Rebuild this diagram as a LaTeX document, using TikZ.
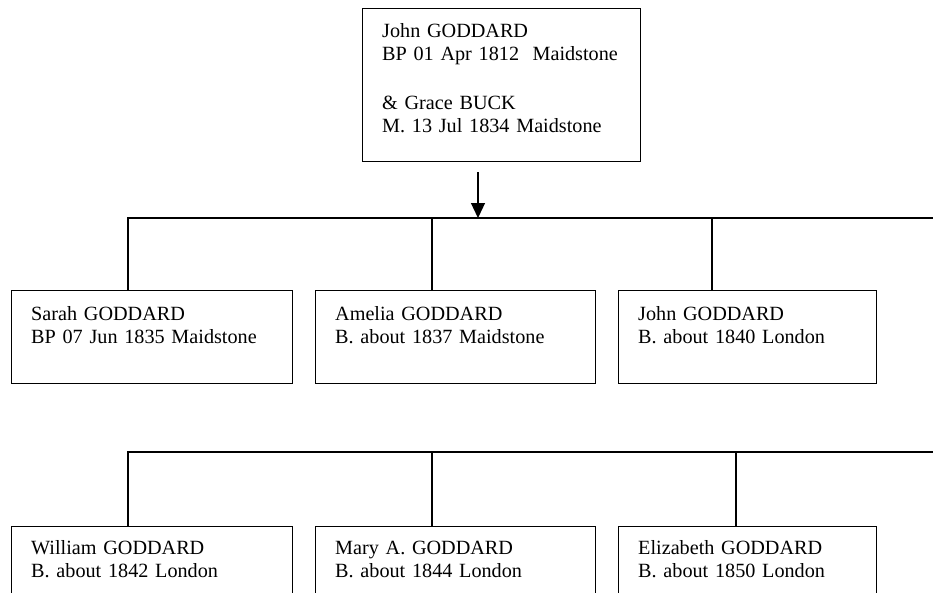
\documentclass[tikz,border=0pt]{standalone}
\usepackage{fontspec}
\setmainfont{Liberation Serif}
\usetikzlibrary{arrows.meta,calc}
\begin{document}
\begin{tikzpicture}[x=1pt,y=-1pt,
  box/.style={draw, line width=1.2pt, rectangle, inner sep=0pt, anchor=north west},
  txt/.style={font=\fontsize{20.2}{23.5}\selectfont, align=left, text width=255pt, inner sep=0pt, anchor=base west},
  conn/.style={line width=1.2pt},
  arrowconn/.style={line width=1.2pt, -{Triangle[length=15pt,width=14pt]}}]
\useasboundingbox (0,0) rectangle (933,592);
\clip (0,0) rectangle (933,592);
% parent box
\node[box, minimum width=278pt, minimum height=153pt] (parent) at (362,8) {};
\node[txt] (parenttxt) at ($(parent.north west)+(20,29)$) {John GODDARD\\BP 01 Apr 1812\ \ Maidstone\\[25pt]\& Grace BUCK\\M. 13 Jul 1834 Maidstone};
% children row 1
\node[box, minimum width=281pt, minimum height=93pt] (sarah) at (11,290) {};
\node[txt] (sarahtxt) at ($(sarah.north west)+(20,30)$) {Sarah GODDARD\\BP 07 Jun 1835 Maidstone};
\node[box, minimum width=280pt, minimum height=93pt] (amelia) at (315,290) {};
\node[txt] (ameliatxt) at ($(amelia.north west)+(20,30)$) {Amelia GODDARD\\B. about 1837 Maidstone};
\node[box, minimum width=258pt, minimum height=93pt] (johnjr) at (618,290) {};
\node[txt] (johnjrtxt) at ($(johnjr.north west)+(20,30)$) {John GODDARD\\B. about 1840 London};
% children row 2
\node[box, minimum width=281pt, minimum height=100pt] (william) at (11,526) {};
\node[txt] (williamtxt) at ($(william.north west)+(20,28)$) {William GODDARD\\B. about 1842 London};
\node[box, minimum width=280pt, minimum height=100pt] (mary) at (315,526) {};
\node[txt] (marytxt) at ($(mary.north west)+(20,28)$) {Mary A. GODDARD\\B. about 1844 London};
\node[box, minimum width=258pt, minimum height=100pt] (eliz) at (618,526) {};
\node[txt] (eliztxt) at ($(eliz.north west)+(20,28)$) {Elizabeth GODDARD\\B. about 1850 London};
% arrow
\coordinate (arrowtail) at (478,172);
\coordinate (arrowtip) at (478,218);
\draw[arrowconn] (arrowtail) -- (arrowtip);
% bus 1
\coordinate (b1a) at (128,218);
\coordinate (b1b) at (432,218);
\coordinate (b1c) at (712,218);
\coordinate (b1end) at (940,218);
\draw[conn] (b1a |- sarah.north) -- (b1a) -- (b1end);
\draw[conn] (b1b) -- (b1b |- amelia.north);
\draw[conn] (b1c) -- (b1c |- johnjr.north);
% bus 2
\coordinate (b2a) at (128,452);
\coordinate (b2b) at (432,452);
\coordinate (b2c) at (736,452);
\coordinate (b2end) at (940,452);
\draw[conn] (b2a |- william.north) -- (b2a) -- (b2end);
\draw[conn] (b2b) -- (b2b |- mary.north);
\draw[conn] (b2c) -- (b2c |- eliz.north);
\end{tikzpicture}
\end{document}
